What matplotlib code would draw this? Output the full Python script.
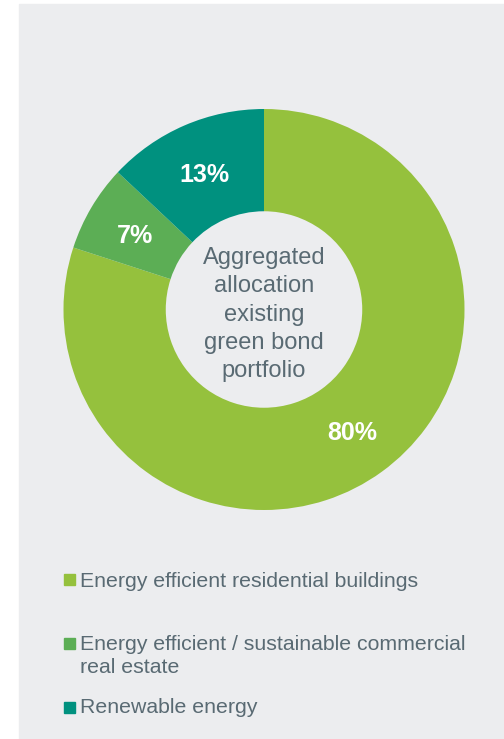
import matplotlib.pyplot as plt
from matplotlib.patches import Rectangle

plt.rcParams['font.family'] = ['Liberation Sans', 'DejaVu Sans']

categories = ['Energy efficient residential buildings',
              'Energy efficient / sustainable commercial\nreal estate',
              'Renewable energy']
shares = [80, 7, 13]
colors = ['#95c13d', '#5cae55', '#00917f']
center_label = 'Aggregated\nallocation\nexisting\ngreen bond\nportfolio'

W, H = 504, 739
text_col = '#596a73'
bg = '#ecedef'

fig = plt.figure(figsize=(W / 100, H / 100), dpi=100)
fig.patch.set_facecolor('white')
fig.patches.append(Rectangle((19 / W, 0), 1 - 19 / W, 1 - 4 / H,
                             transform=fig.transFigure, color=bg, zorder=-5))

# donut
cx, cy, r = 264, 309.5, 201.5
ax = fig.add_axes([(cx - r) / W, (H - cy - r) / H, 2 * r / W, 2 * r / H])
ax.set_zorder(1)
ax.set_facecolor('none')
wedges, _, autotexts = ax.pie(shares, colors=colors, startangle=90, counterclock=False,
                              autopct='%d%%', pctdistance=0.745,
                              wedgeprops=dict(width=0.51, linewidth=0),
                              textprops=dict(color='white', fontsize=18, fontweight='bold'))
for t in autotexts:
    t.set_va('center_baseline')
ax.set_xlim(-1.005, 1.005)
ax.set_ylim(-1.005, 1.005)
ax.axis('off')
ax.text(0, -0.025, center_label, ha='center', va='center', fontsize=17,
        color=text_col, linespacing=1.36)

# legend
items = [(587, 574), (650, 638), (713, 702)]
for (base, sq_top), label, c in zip(items, categories, colors):
    fig.patches.append(Rectangle((64 / W, 1 - (sq_top + 11) / H), 11 / W, 11 / H,
                                 transform=fig.transFigure, color=c, zorder=2))
    fig.text(80 / W, 1 - base / H, label.split('\n')[0], fontsize=15.3, color=text_col,
             va='baseline', ha='left')
    if '\n' in label:
        fig.text(80 / W, 1 - (base + 23) / H, label.split('\n')[1], fontsize=15.3,
                 color=text_col, va='baseline', ha='left')

fig.savefig('out.png', dpi=100, facecolor=fig.get_facecolor())
